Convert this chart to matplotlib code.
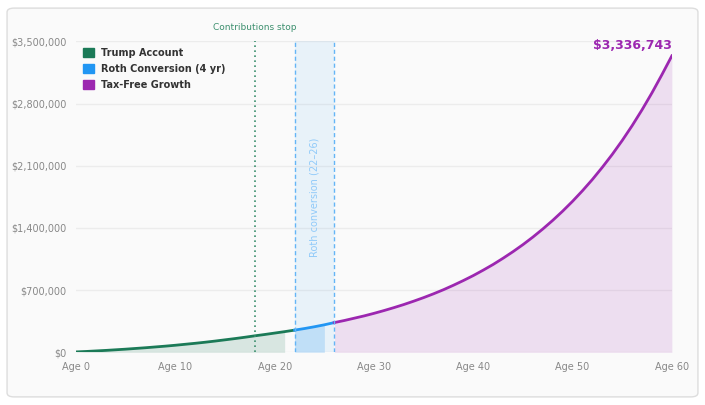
import matplotlib.pyplot as plt
from matplotlib.patches import FancyBboxPatch, Patch

ages = list(range(61))
balance_k = [5, 10, 16, 22, 29, 36, 44, 52, 61, 70, 80, 91, 102, 114, 127, 141, 155, 170, 186,
             201, 217, 233, 250, 268, 288, 310, 335,
             358, 384, 410, 439, 470, 503, 538, 576, 616, 659, 705, 755, 808, 864,
             925, 989, 1059, 1133, 1212, 1297, 1388, 1485, 1589, 1700,
             1819, 1946, 2083, 2228, 2384, 2551, 2730, 2921, 3125, 3336.743]
balance = [v * 1000 for v in balance_k]
contrib_stop = 18
roth_start, roth_end = 22, 26
yticks = [0, 700000, 1400000, 2100000, 2800000, 3500000]
ytick_labels = ['$0', '$700,000', '$1,400,000', '$2,100,000', '$2,800,000', '$3,500,000']
xticks = [0, 10, 20, 30, 40, 50, 60]

GREEN, BLUE, PURPLE = '#1b7a57', '#2196f3', '#9c27b0'

fig = plt.figure(figsize=(7.05, 4.05), dpi=100)
fig.patch.set_facecolor('white')
card = FancyBboxPatch((0.01, 0.02), 0.98, 0.96, boxstyle='round,pad=0,rounding_size=0.01',
                      transform=fig.transFigure, facecolor='#fafafa', edgecolor='#dddddd', lw=1, zorder=-10)
fig.patches.append(card)
ax = fig.add_axes([0.108, 0.13, 0.845, 0.768])
ax.set_facecolor('#fafafa')

# fills
ax.fill_between(ages[:22], balance[:22], color=GREEN, alpha=0.15, lw=0)
ax.fill_between(ages[22:26], balance[22:26], color=BLUE, alpha=0.2, lw=0)
ax.fill_between(ages[26:], balance[26:], color=PURPLE, alpha=0.13, lw=0)
ax.axvspan(roth_start, roth_end, color=BLUE, alpha=0.08, lw=0)

# lines
ax.plot(ages[:roth_start + 1], balance[:roth_start + 1], color=GREEN, lw=2)
ax.plot(ages[roth_start:roth_end + 1], balance[roth_start:roth_end + 1], color=BLUE, lw=2)
ax.plot(ages[roth_end:], balance[roth_end:], color=PURPLE, lw=2)

ax.axvline(contrib_stop, color='#3c8f6e', ls=(0, (1, 2)), lw=1.2)
ax.axvline(roth_start, color='#64b5f6', ls=(0, (3, 2)), lw=1)
ax.axvline(roth_end, color='#64b5f6', ls=(0, (3, 2)), lw=1)
ax.text(contrib_stop, 3600000, 'Contributions stop', color='#3c8f6e', fontsize=6.5, ha='center', va='bottom')
ax.text((roth_start + roth_end) / 2, 1750000, 'Roth conversion (22\u201326)', color='#90caf9',
        fontsize=7, rotation=90, ha='center', va='center')
ax.text(60, balance[-1] + 40000, '$3,336,743', color=PURPLE, fontsize=9, fontweight='bold',
        ha='right', va='bottom')

ax.set_xlim(0, 60)
ax.set_ylim(0, 3500000)
ax.set_yticks(yticks, ytick_labels)
ax.set_xticks(xticks, ['Age %d' % a for a in xticks])
ax.tick_params(colors='#888888', labelsize=7, length=0, pad=7)
ax.grid(axis='y', color='#ececec', lw=1)
ax.set_axisbelow(True)
for s in ax.spines.values():
    s.set_visible(False)

handles = [Patch(color=GREEN, label='Trump Account'),
           Patch(color=BLUE, label='Roth Conversion (4 yr)'),
           Patch(color=PURPLE, label='Tax-Free Growth')]
leg = ax.legend(handles=handles, loc='upper left', frameon=False, fontsize=7, handlelength=1.1,
                handleheight=1.1, labelspacing=0.6, borderaxespad=0.3)
for t in leg.get_texts():
    t.set_color('#333333')
    t.set_fontweight('bold')

fig.savefig('out.png', dpi=100, facecolor='white')
